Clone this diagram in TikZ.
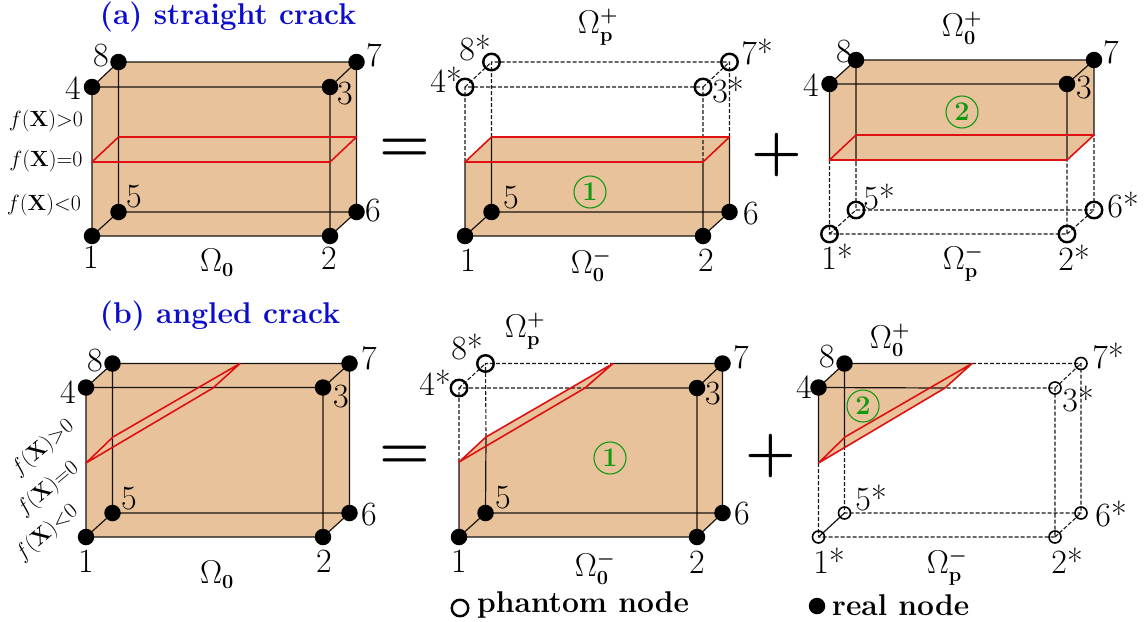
\documentclass[tikz,border=0pt]{standalone}
\usepackage{fix-cm}
\usepackage{amsmath}
\DeclareMathSizes{33}{33}{20}{15}
\definecolor{clay}{HTML}{E8C29B}
\definecolor{crackred}{HTML}{DD1111}
\definecolor{mark}{HTML}{109A10}
\definecolor{ttl}{HTML}{0C0CCC}
\tikzset{
  thinl/.style={line width=1.2pt,draw=black!90!clay},
  dashl/.style={line width=1.1pt,draw=black!90,dash pattern=on 4pt off 2pt},
  crackl/.style={line width=1.6pt,draw=crackred,line join=round},
  claysh/.style={fill=clay,draw=none},
  realn/.style={circle,fill=black,draw=none,inner sep=0pt,minimum size=16.5pt},
  phantomn/.style={circle,draw=black,fill=none,line width=2.4pt,inner sep=0pt,minimum size=16.5pt},
  phantoms/.style={circle,draw=black,fill=none,line width=1.6pt,inner sep=0pt,minimum size=12pt},
  num/.style={inner sep=0pt,font=\fontsize{34}{36}\selectfont},
  omg/.style={inner sep=0pt,font=\fontsize{33}{36}\selectfont},
  fx/.style={inner sep=0pt,font=\fontsize{22}{24}\selectfont},
  ttln/.style={inner sep=0pt,text=ttl,font=\fontsize{30}{32}\selectfont\bfseries},
  legend/.style={inner sep=0pt,font=\fontsize{30}{32}\selectfont\bfseries,anchor=west},
  opr/.style={inner sep=0pt,font=\fontsize{58}{60}\selectfont},
  circ/.style={circle,draw=mark,text=mark,line width=1.1pt,inner sep=0pt,minimum size=32pt,font=\fontsize{27}{28}\selectfont\bfseries},
}
\newcommand{\bp}{\boldsymbol{+}}
\newcommand{\bm}{\boldsymbol{-}}
\begin{document}
\begin{tikzpicture}[x=1pt,y=-1pt]
\useasboundingbox (0,0) rectangle (1145,621);
% ---------- (a) left
\coordinate (a1) at (92,236); \coordinate (a2) at (330,236); \coordinate (a3) at (330,87); \coordinate (a4) at (92,87);
\coordinate (a5) at (118.5,212); \coordinate (a6) at (356.5,212); \coordinate (a7) at (356.5,62); \coordinate (a8) at (118.5,62);
\coordinate (ac1) at (92,162); \coordinate (ac2) at (330,162); \coordinate (ac3) at (356.5,137); \coordinate (ac4) at (118.5,137);
\fill[claysh] (a1)--(a2)--(a6)--(a7)--(a8)--(a4)--cycle;
\draw[thinl] (a1)--(a2)--(a3)--(a4)--cycle (a5)--(a6)--(a7)--(a8)--cycle (a1)--(a5) (a2)--(a6) (a3)--(a7) (a4)--(a8);
\draw[crackl] (ac1)--(ac2)--(ac3)--(ac4)--cycle;
\foreach \p in {a1,a2,a3,a4,a5,a6,a7,a8} \node[realn] (n\p) at (\p) {};
% ---------- (a) middle
\coordinate (b1) at (465,236); \coordinate (b2) at (703,236); \coordinate (b3) at (703,87); \coordinate (b4) at (465,87);
\coordinate (b5) at (491.5,212); \coordinate (b6) at (729.5,212); \coordinate (b7) at (729.5,62); \coordinate (b8) at (491.5,62);
\coordinate (bc1) at (465,162); \coordinate (bc2) at (703,162); \coordinate (bc3) at (729.5,137); \coordinate (bc4) at (491.5,137);
\fill[claysh] (b1)--(b2)--(b6)--(bc3)--(bc4)--(bc1)--cycle;
\draw[thinl] (bc1)--(b1)--(b2)--(bc2) (bc4)--(b5)--(b6)--(bc3) (b1)--(b5) (b2)--(b6);
\draw[dashl] (bc1)--(b4)--(b3)--(bc2) (bc4)--(b8)--(b7)--(bc3) (b4)--(b8) (b3)--(b7);
\draw[crackl] (bc1)--(bc2)--(bc3)--(bc4)--cycle;
\foreach \p in {b1,b2,b5,b6} \node[realn] (n\p) at (\p) {};
\foreach \p in {b3,b4,b7,b8} \node[phantomn] (n\p) at (\p) {};
% ---------- (a) right
\coordinate (c1) at (829.5,234); \coordinate (c2) at (1067,234); \coordinate (c3) at (1067,84); \coordinate (c4) at (829.5,84);
\coordinate (c5) at (856,210); \coordinate (c6) at (1094,210); \coordinate (c7) at (1094,60); \coordinate (c8) at (856,60);
\coordinate (cc1) at (829.5,160); \coordinate (cc2) at (1067,160); \coordinate (cc3) at (1094,135); \coordinate (cc4) at (856,135);
\coordinate (cc5) at (856,162);
\fill[claysh] (c4)--(c8)--(c7)--(cc3)--(cc2)--(cc1)--cycle;
\draw[thinl] (cc1)--(c4)--(c3)--(cc2) (c8)--(c7)--(cc3) (c8)--(cc5) (c4)--(c8) (c3)--(c7);
\draw[dashl] (cc1)--(c1)--(c2)--(cc2) (cc5)--(c5)--(c6)--(cc3) (c1)--(c5) (c2)--(c6);
\draw[crackl] (cc1)--(cc2)--(cc3)--(cc4)--cycle;
\foreach \p in {c3,c4,c7,c8} \node[realn] (n\p) at (\p) {};
\foreach \p in {c1,c2,c5,c6} \node[phantomn] (n\p) at (\p) {};
% ---------- (b) left
\coordinate (d1) at (86,537); \coordinate (d2) at (323,537); \coordinate (d3) at (323,387.5); \coordinate (d4) at (86,387.5);
\coordinate (d5) at (112.5,513); \coordinate (d6) at (349.5,513); \coordinate (d7) at (349.5,363.5); \coordinate (d8) at (112.5,363.5);
\coordinate (dc1) at (86,463); \coordinate (dc2) at (213,388); \coordinate (dc3) at (240,363.5); \coordinate (dc4) at (113,437);
\fill[claysh] (d1)--(d2)--(d6)--(d7)--(d8)--(d4)--cycle;
\draw[thinl] (d1)--(d2)--(d3)--(d4)--cycle (d5)--(d6)--(d7)--(d8)--cycle (d1)--(d5) (d2)--(d6) (d3)--(d7) (d4)--(d8);
\draw[crackl] (dc1)--(dc2)--(dc3)--(dc4)--cycle;
\foreach \p in {d1,d2,d3,d4,d5,d6,d7,d8} \node[realn] (n\p) at (\p) {};
% ---------- (b) middle
\coordinate (e1) at (459,537); \coordinate (e2) at (697,537); \coordinate (e3) at (697,388); \coordinate (e4) at (459,388);
\coordinate (e5) at (485.5,513); \coordinate (e6) at (722.5,513); \coordinate (e7) at (722.5,363.5); \coordinate (e8) at (485.5,363.5);
\coordinate (ec1) at (459,462); \coordinate (ec2) at (585,388); \coordinate (ec3) at (613,363.5); \coordinate (ec4) at (486,437);
\fill[claysh] (e1)--(e2)--(e6)--(e7)--(ec3)--(ec4)--(ec1)--cycle;
\draw[thinl] (ec1)--(e1)--(e2)--(e3)--(ec2) (ec3)--(e7)--(e6)--(e5)--(ec4) (e1)--(e5) (e2)--(e6) (e3)--(e7);
\draw[dashl] (ec1)--(e4)--(ec2) (ec4)--(e8)--(ec3) (e4)--(e8);
\draw[crackl] (ec1)--(ec2)--(ec3)--(ec4)--cycle;
\foreach \p in {e1,e2,e3,e5,e6,e7} \node[realn] (n\p) at (\p) {};
\foreach \p in {e4,e8} \node[phantomn] (n\p) at (\p) {};
% ---------- (b) right
\coordinate (f1) at (818.5,537); \coordinate (f2) at (1055,537); \coordinate (f3) at (1055,388); \coordinate (f4) at (818.5,387.5);
\coordinate (f5) at (844.5,513); \coordinate (f6) at (1081,513); \coordinate (f7) at (1081,363.5); \coordinate (f8) at (844.5,363.5);
\coordinate (fc1) at (818.5,463); \coordinate (fc2) at (945,388); \coordinate (fc3) at (972,363.5); \coordinate (fc4) at (845,437);
\coordinate (fc5) at (844.5,447);
\fill[claysh] (f4)--(f8)--(fc3)--(fc2)--(fc1)--cycle;
\draw[thinl] (fc1)--(f4)--(fc2) (f4)--(f8)--(fc3) (f8)--(fc5) (f1)--(f5);
\draw[dashl] (fc1)--(f1)--(f2)--(f3)--(fc2) (fc3)--(f7)--(f6)--(f5)--(fc5) (f2)--(f6) (f3)--(f7);
\draw[crackl] (fc1)--(fc2)--(fc3)--(fc4)--cycle;
\foreach \p in {f4,f8} \node[realn] (n\p) at (\p) {};
\foreach \p in {f1,f2,f3,f5,f6,f7} \node[phantoms] (n\p) at (\p) {};
% ---------- titles
\node[ttln] (t1) at (228,17) {(a) straight crack};
\node[ttln] (t2) at (220,316) {(b) angled crack};
% ---------- operators
\node[opr] (eq1) at (405,150) {$\boldsymbol{=}$};
\node[opr] (eq2) at (405,457) {$\boldsymbol{=}$};
\node[opr] (pl1) at (777,155) {$\boldsymbol{+}$};
\node[opr] (pl2) at (771,456) {$\boldsymbol{+}$};
% ---------- circled marks
\node[circ] (m1) at (590,192) {1};
\node[circ] (m2) at (962,112) {2};
\node[circ] (m3) at (610,458) {1};
\node[circ] (m4) at (863,406) {2};
% ---------- f labels
\node[fx] (fa1) at (46,121) {$f(\mathbf{X}){>}0$};
\node[fx] (fa2) at (46,161) {$f(\mathbf{X}){=}0$};
\node[fx] (fa3) at (44,205) {$f(\mathbf{X}){<}0$};
\node[fx,rotate=40] (fb1) at (43,448) {$f(\mathbf{X}){>}0$};
\node[fx,rotate=40] (fb2) at (48,489) {$f(\mathbf{X}){=}0$};
\node[fx,rotate=40] (fb3) at (47,533) {$f(\mathbf{X}){<}0$};
% ---------- omega labels
\node[omg] (o1) at (217,263) {$\Omega_{\mathbf{0}}$};
\node[omg] (o2) at (598,27) {$\Omega^{\bp}_{\mathbf{p}}$};
\node[omg] (o3) at (591,265) {$\Omega^{\bm}_{\mathbf{0}}$};
\node[omg] (o4) at (962,28) {$\Omega^{\bp}_{\mathbf{0}}$};
\node[omg] (o5) at (963,263) {$\Omega^{\bm}_{\mathbf{p}}$};
\node[omg] (o6) at (217,575) {$\Omega_{\mathbf{0}}$};
\node[omg] (o7) at (525,331) {$\Omega^{\bp}_{\mathbf{p}}$};
\node[omg] (o8) at (595,568) {$\Omega^{\bm}_{\mathbf{0}}$};
\node[omg] (o9) at (890,340) {$\Omega^{\bp}_{\mathbf{0}}$};
\node[omg] (o10) at (947,567) {$\Omega^{\bm}_{\mathbf{p}}$};
% ---------- vertex numbers
\node[num] (la8) at (101,56) {8};
\node[num] (la4) at (73,88) {4};
\node[num] (la3) at (345,94) {3};
\node[num] (la7) at (374,55) {7};
\node[num] (la5) at (134,197) {5};
\node[num] (la6) at (373,211) {6};
\node[num] (la1) at (91,257) {1};
\node[num] (la2) at (329,258) {2};
\node[num] (lb8) at (475,48) {8*};
\node[num] (lb4) at (446,80) {4*};
\node[num] (lb3) at (728,90) {3*};
\node[num] (lb7) at (757,52) {7*};
\node[num] (lb5) at (511,198) {5};
\node[num] (lb6) at (751,214) {6};
\node[num] (lb1) at (468,260) {1};
\node[num] (lb2) at (706,260) {2};
\node[num] (lc8) at (844,52) {8};
\node[num] (lc4) at (811,85) {4};
\node[num] (lc3) at (1084,88) {3};
\node[num] (lc7) at (1111,52) {7};
\node[num] (lc5) at (879,197) {5*};
\node[num] (lc6) at (1123,205) {6*};
\node[num] (lc1) at (837,257) {1*};
\node[num] (lc2) at (1074,258) {2*};
\node[num] (ld8) at (95,361) {8};
\node[num] (ld4) at (68,392) {4};
\node[num] (ld3) at (341,397) {3};
\node[num] (ld7) at (369,358) {7};
\node[num] (ld5) at (129,499) {5};
\node[num] (ld6) at (369,515) {6};
\node[num] (ld1) at (86,561) {1};
\node[num] (ld2) at (324,561) {2};
\node[num] (le8) at (467,347) {8*};
\node[num] (le4) at (435,383) {4*};
\node[num] (le3) at (713,394) {3};
\node[num] (le7) at (741,357) {7};
\node[num] (le5) at (503,498) {5};
\node[num] (le6) at (742,514) {6};
\node[num] (le1) at (459,561) {1};
\node[num] (le2) at (697,562) {2};
\node[num] (lf8) at (827,357) {8};
\node[num] (lf4) at (804,387) {4};
\node[num] (lf3) at (1078,399) {3*};
\node[num] (lf7) at (1108,356) {7*};
\node[num] (lf5) at (871,498) {5*};
\node[num] (lf6) at (1111,514) {6*};
\node[num] (lf1) at (829,561) {1*};
\node[num] (lf2) at (1067,561) {2*};
% ---------- legend
\node[phantomn] (kp) at (460,608) {};
\node[legend] (kpt) at (477,605) {phantom node};
\node[realn] (kr) at (817,606) {};
\node[legend] (krt) at (832,605) {real node};
\end{tikzpicture}
\end{document}
